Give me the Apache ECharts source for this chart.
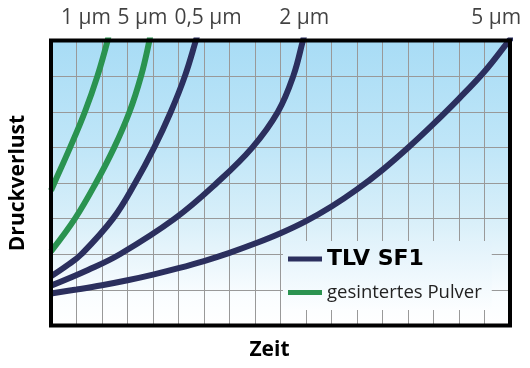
<!DOCTYPE html>
<html>
<head>
<meta charset="utf-8">
<script src="https://cdn.jsdelivr.net/npm/echarts@6/dist/echarts.min.js"></script>
<style>html,body{margin:0;padding:0;background:#fff;}#c{width:530px;height:368px;}</style>
</head>
<body>
<div id="c"></div>
<script>
// Curve data [time, pressure drop] (grid units)
var sf1_05 = [[0,1.38],[0.62,1.68],[1.19,2.0],[2.43,3.0],[3.3,4.0],[4.05,5.0],[4.7,6.0],[5.25,7.0],[5.68,8.0],[5.75,8.2]];
var sf1_2  = [[0,1.12],[1.45,1.56],[2.7,2.0],[4.85,3.0],[6.5,4.0],[7.9,5.0],[8.9,6.0],[9.5,7.0],[9.88,8.0],[9.95,8.2]];
var sf1_5  = [[0,0.9],[1,1.01],[2,1.13],[3,1.27],[4,1.43],[5,1.61],[6,1.81],[7,2.04],[8,2.3],[9,2.59],[10,2.93],[11,3.34],[12,3.82],[13,4.37],[14,4.99],[15,5.66],[16,6.37],[17,7.13],[17.9,7.94],[18.1,8.12]];
var sint_1 = [[0,3.79],[0.13,4.0],[0.75,5.0],[1.33,6.0],[1.82,7.0],[2.22,8.0],[2.26,8.2]];
var sint_5 = [[0,2.08],[0.94,3.0],[1.76,4.0],[2.48,5.0],[3.08,6.0],[3.53,7.0],[3.86,8.0],[3.9,8.2]];
var curveLabels = ['1 \u00b5m','5 \u00b5m','0,5 \u00b5m','2 \u00b5m','5 \u00b5m'];
var curveLabelX = [1.37, 3.59, 6.16, 9.93, 17.46];
var legendNames = ['TLV SF1','gesintertes Pulver'];
var xMax = 18, yMax = 8;

var NAVY = '#2b2f5e', GREEN = '#2a9350';
function lineSeries(name, data, color){
  return {type:'line', name:name, data:data, smooth:0.4, showSymbol:false, symbol:'none',
    clip:true, lineStyle:{color:color, width:6}, itemStyle:{color:color}, silent:true, z:3};
}
var chart = echarts.init(document.getElementById('c'));
chart.setOption({
  animation:false,
  grid:[
    {left:51, right:20, top:40.5, bottom:42.5, show:true, borderWidth:0,
     backgroundColor:{type:'linear',x:0,y:0,x2:0,y2:1,colorStops:[
       {offset:0,color:'#a8dcf5'},{offset:0.38,color:'#c0e6f8'},{offset:0.63,color:'#d8eff9'},
       {offset:0.77,color:'#eaf6fc'},{offset:0.9,color:'#fafdff'},{offset:1,color:'#ffffff'}]}},
    {left:51, right:20, top:40.5, bottom:42.5, show:true, backgroundColor:'transparent',
     borderColor:'#000', borderWidth:4, z:10}
  ],
  xAxis:[
    {type:'value', gridIndex:0, min:0, max:xMax, interval:1,
     axisLine:{show:false}, axisTick:{show:false}, axisLabel:{show:false},
     splitLine:{show:true, lineStyle:{color:'#999', width:1}},
     name:'Zeit', nameLocation:'middle', nameGap:14,
     nameTextStyle:{fontFamily:'Open Sans', fontWeight:'bold', fontSize:21, color:'#000', padding:[0,22,0,0]}},
    {type:'value', gridIndex:1, min:0, max:xMax, show:false}
  ],
  yAxis:[
    {type:'value', gridIndex:0, min:0, max:yMax, interval:1,
     axisLine:{show:false}, axisTick:{show:false}, axisLabel:{show:false},
     splitLine:{show:true, lineStyle:{color:'#999', width:1}},
     name:'Druckverlust', nameLocation:'middle', nameGap:22,
     nameTextStyle:{fontFamily:'Open Sans', fontWeight:'bold', fontSize:21, color:'#000'}},
    {type:'value', gridIndex:1, min:0, max:yMax, show:false}
  ],
  legend:{
    data:legendNames, orient:'vertical', left:283, top:241,
    padding:[7,10,8,5], itemGap:13, itemWidth:34, itemHeight:5, icon:'rect',
    selectedMode:false,
    backgroundColor:{type:'linear',x:0,y:0,x2:0,y2:1,colorStops:[
      {offset:0,color:'#e1f2fb'},{offset:1,color:'#fcfeff'}]},
    formatter:function(n){ return n===legendNames[0] ? '{a|'+n+'}' : '{b|'+n+'}'; },
    textStyle:{rich:{
      a:{fontFamily:'DejaVu Sans', fontWeight:'bold', fontSize:22, color:'#000', lineHeight:24},
      b:{fontFamily:'Open Sans', fontSize:18.5, color:'#222', lineHeight:24}
    }}
  },
  series:[
    lineSeries(legendNames[1], sint_1, GREEN),
    lineSeries(legendNames[1], sint_5, GREEN),
    lineSeries(legendNames[0], sf1_05, NAVY),
    lineSeries(legendNames[0], sf1_2, NAVY),
    lineSeries(legendNames[0], sf1_5, NAVY),
    {type:'scatter', name:'labels', symbolSize:0, clip:false, silent:true, z:20,
     data:curveLabelX.map(function(x,i){return {value:[x,yMax], name:curveLabels[i]};}),
     label:{show:true, position:'top', distance:12, formatter:'{b}',
       fontFamily:'Open Sans', fontSize:21, color:'#111'}}
  ]
});
</script>
</body>
</html>
